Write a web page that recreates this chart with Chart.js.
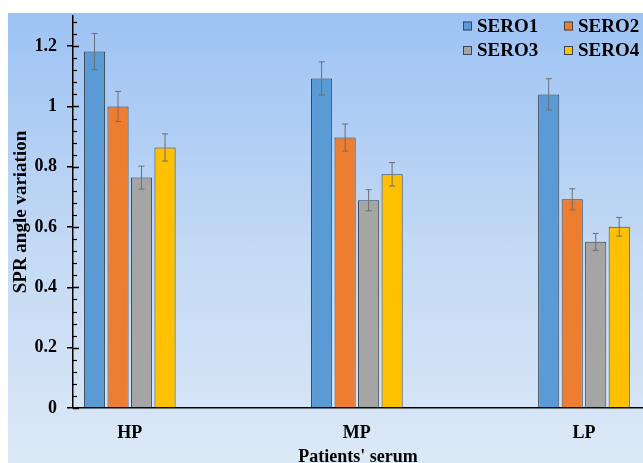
<!DOCTYPE html>
<html>
<head>
<meta charset="utf-8">
<script src="https://cdn.jsdelivr.net/npm/chart.js@4.4.1/dist/chart.umd.min.js"></script>
<style>
  html, body { margin: 0; padding: 0; background: #fff; overflow: hidden; }
  #panel { position: absolute; left: 8px; top: 13px; width: 635px; height: 467px;
           background: linear-gradient(to bottom, #9dc3f4 0%, #c3d9f4 50%, #deeaf7 100%); }
  #wrap { position: absolute; left: 0; top: 0; width: 643px; height: 480px; }
</style>
</head>
<body>
<div id="panel"></div>
<div id="wrap"><canvas id="chart"></canvas></div>
<script>
const categories = ['HP', 'MP', 'LP'];
const seriesNames = ['SERO1', 'SERO2', 'SERO3', 'SERO4'];
const sero1 = [1.182, 1.093, 1.040];
const sero2 = [1.000, 0.897, 0.692];
const sero3 = [0.764, 0.689, 0.551];
const sero4 = [0.864, 0.775, 0.601];
const sero1Err = [0.060, 0.055, 0.052];
const sero2Err = [0.050, 0.045, 0.035];
const sero3Err = [0.038, 0.035, 0.028];
const sero4Err = [0.045, 0.039, 0.031];
const yTicks = [0, 0.2, 0.4, 0.6, 0.8, 1, 1.2];

const colors = ['#5b9bd5', '#ed7d31', '#a5a5a5', '#ffc000'];
const values = [sero1, sero2, sero3, sero4];
const errors = [sero1Err, sero2Err, sero3Err, sero4Err];
const serif = "'Liberation Serif', 'Times New Roman', serif";

// error bars on top of each bar
const errorBars = {
    id: 'errorBars',
    afterDatasetsDraw(chart) {
        const ctx = chart.ctx;
        const y = chart.scales.y;
        ctx.save();
        ctx.strokeStyle = '#6f6f6f';
        ctx.lineWidth = 1;
        chart.data.datasets.forEach((ds, di) => {
            chart.getDatasetMeta(di).data.forEach((bar, i) => {
                const v = values[di][i];
                const e = errors[di][i];
                const top = y.getPixelForValue(v + e);
                const bot = y.getPixelForValue(v - e);
                ctx.beginPath();
                ctx.moveTo(bar.x, top); ctx.lineTo(bar.x, bot);
                ctx.moveTo(bar.x - 3, top); ctx.lineTo(bar.x + 3, top);
                ctx.moveTo(bar.x - 3, bot); ctx.lineTo(bar.x + 3, bot);
                ctx.stroke();
            });
        });
        ctx.restore();
    }
};

// tick marks inside the plot along the y axis (major + minor)
const innerTicks = {
    id: 'innerTicks',
    afterDraw(chart) {
        const ctx = chart.ctx;
        const y = chart.scales.y;
        const left = chart.chartArea.left;
        ctx.save();
        ctx.strokeStyle = '#000';
        for (let i = 0; i * 0.04 <= 1.3 + 1e-9; i++) {
            const py = Math.round(y.getPixelForValue(i * 0.04)) + 0.5;
            const major = i % 5 === 0;
            ctx.lineWidth = major ? 1.5 : 1.2;
            ctx.beginPath();
            ctx.moveTo(left, py);
            ctx.lineTo(left + (major ? 6 : 4), py);
            ctx.stroke();
        }
        ctx.restore();
    }
};

// 2 x 2 legend in the top right corner
const gridLegend = {
    id: 'gridLegend',
    afterDraw(chart) {
        const ctx = chart.ctx;
        ctx.save();
        ctx.font = 'bold 19px ' + serif;
        ctx.textBaseline = 'middle';
        chart.data.datasets.forEach((ds, i) => {
            const x = i % 2 === 0 ? 463 : 564;
            const cy = i < 2 ? 26 : 50.5;
            ctx.fillStyle = ds.backgroundColor;
            ctx.fillRect(x, cy - 4.5, 9, 9);
            ctx.strokeStyle = '#3a4655';
            ctx.lineWidth = 1;
            ctx.strokeRect(x + 0.5, cy - 4, 8, 8);
            ctx.fillStyle = '#000';
            ctx.fillText(ds.label, x + 14, cy + 1);
        });
        ctx.restore();
    }
};

new Chart(document.getElementById('chart'), {
    type: 'bar',
    data: {
        datasets: seriesNames.map((name, si) => ({
            label: name,
            data: values[si].map((v, i) => ({ x: i, y: v })),
            backgroundColor: colors[si],
            borderColor: '#33404e',
            borderWidth: 1,
            categoryPercentage: 0.414,
            barPercentage: 0.9
        }))
    },
    options: {
        responsive: true,
        maintainAspectRatio: false,
        animation: false,
        layout: { padding: { top: 16, right: 0, left: 0, bottom: 0 } },
        plugins: {
            legend: { display: false },
            tooltip: { enabled: false }
        },
        scales: {
            x: {
                type: 'linear',
                offset: false,
                min: -0.25,
                max: 2.26,
                afterBuildTicks: s => { s.ticks = categories.map((c, i) => ({ value: i })); },
                afterFit: s => { s.height = 72; },
                ticks: {
                    callback: v => categories[v],
                    color: '#000',
                    padding: 7,
                    font: { family: serif, size: 18, weight: 'bold' }
                },
                grid: { display: false },
                border: { display: true, color: '#000', width: 1.5 },
                title: {
                    display: true,
                    text: "Patients' serum",
                    color: '#000',
                    padding: { top: 0, bottom: 12 },
                    font: { family: serif, size: 18, weight: 'bold' }
                }
            },
            y: {
                min: 0,
                max: 1.3,
                afterBuildTicks: s => { s.ticks = yTicks.map(v => ({ value: v })); },
                afterFit: s => { s.width = 73; s.paddingTop = 0; s.paddingBottom = 0; },
                ticks: {
                    callback: v => String(v),
                    color: '#000',
                    padding: 10,
                    font: { family: serif, size: 18, weight: 'bold' }
                },
                grid: { drawOnChartArea: false, tickLength: 6, color: '#000', lineWidth: 1.5 },
                border: { display: true, color: '#000', width: 1.5 },
                title: {
                    display: true,
                    text: 'SPR angle variation',
                    color: '#000',
                    padding: { top: 10, bottom: 0 },
                    font: { family: serif, size: 19, weight: 'bold' }
                }
            }
        }
    },
    plugins: [errorBars, innerTicks, gridLegend]
});
</script>
</body>
</html>
